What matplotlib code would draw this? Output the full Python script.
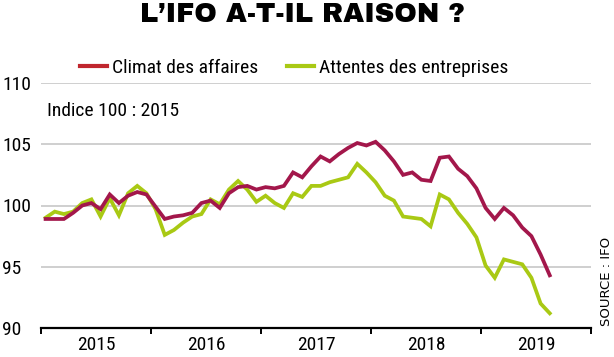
import numpy as np
import matplotlib
matplotlib.use('Agg')
import matplotlib.pyplot as plt
from matplotlib.lines import Line2D

# monthly values, Jan 2015 -> Aug 2019 (index 100 : 2015)
climat = [98.9, 98.9, 98.9, 99.4, 100.0, 100.2, 99.7, 100.9, 100.2, 100.8, 101.1, 100.9,
          99.9, 98.9, 99.1, 99.2, 99.4, 100.2, 100.4, 99.8, 101.0, 101.5, 101.6, 101.3,
          101.5, 101.4, 101.6, 102.7, 102.3, 103.2, 104.0, 103.6, 104.2, 104.7, 105.1, 104.9,
          105.2, 104.5, 103.6, 102.5, 102.7, 102.1, 102.0, 103.9, 104.0, 103.0, 102.4, 101.4,
          99.8, 98.9, 99.8, 99.2, 98.2, 97.5, 96.0, 94.3]
attentes = [99.0, 99.5, 99.3, 99.5, 100.2, 100.5, 99.1, 100.6, 99.2, 101.0, 101.6, 101.0,
            99.7, 97.6, 98.0, 98.6, 99.1, 99.3, 100.5, 100.1, 101.3, 102.0, 101.3, 100.3,
            100.8, 100.2, 99.8, 101.0, 100.7, 101.6, 101.6, 101.9, 102.1, 102.3, 103.4, 102.7,
            101.9, 100.8, 100.4, 99.1, 99.0, 98.9, 98.3, 100.9, 100.5, 99.4, 98.5, 97.4,
            95.1, 94.1, 95.6, 95.4, 95.2, 94.1, 92.0, 91.2]
years = ['2015', '2016', '2017', '2018', '2019']
yticks = [90, 95, 100, 105, 110]

red = '#a3174b'
green = '#a9c914'
font = ['Roboto Condensed', 'DejaVu Sans']
fs = 14

W, H = 614, 357
fig = plt.figure(figsize=(W / 100, H / 100), dpi=100)
ax = fig.add_axes([41 / W, (H - 328) / H, 550 / W, 245 / H])

months = np.arange(len(climat)) + 0.5
ax.plot(months, attentes, color=green, lw=2.7, solid_joinstyle='miter', zorder=3)
ax.plot(months, climat, color=red, lw=2.7, solid_joinstyle='miter', zorder=4)

ax.set_xlim(0, 60)
ax.set_ylim(90, 110)
for v in yticks[1:]:
    ax.axhline(v, color='#cccccc', lw=1.3, zorder=1)

for s in ['top', 'right', 'left']:
    ax.spines[s].set_visible(False)
ax.spines['bottom'].set_linewidth(1.6)
ax.spines['bottom'].set_zorder(5)

ax.set_xticks(np.arange(0, 61, 12))
ax.set_xticklabels([])
ax.set_xticks(np.arange(6, 60, 12), minor=True)
ax.set_xticklabels(years, minor=True, family=font, fontsize=fs)
ax.tick_params(axis='x', which='major', length=4, width=1.4, direction='out')
ax.tick_params(axis='x', which='minor', length=0, pad=6)

ax.set_yticks(yticks)
ax.set_yticklabels([str(v) for v in yticks], family=font, fontsize=fs)
ax.tick_params(axis='y', length=0, pad=28)
for lab in ax.get_yticklabels():
    lab.set_horizontalalignment('left')

fig.text(302 / W, 1 - 15 / H, "L’IFO A-T-IL RAISON ?", ha='center', va='center',
         fontsize=19.5, family=['Archivo Black', 'DejaVu Sans'])
fig.text(47 / W, 1 - 111 / H, 'Indice 100 : 2015', ha='left', va='center',
         family=font, fontsize=fs)
fig.text(606 / W, (H - 281) / H, 'SOURCE : IFO', rotation=90, ha='center', va='center',
         fontsize=9.5, family=['DejaVu Sans'])

handles = [Line2D([], [], color='#c0262e', lw=3), Line2D([], [], color=green, lw=3)]
fig.legend(handles, ['Climat des affaires', 'Attentes des entreprises'], ncol=2,
           loc='center left', bbox_to_anchor=(80 / W, 1 - 68 / H), frameon=False,
           prop={'family': font, 'size': 14}, handlelength=1.4, handletextpad=0.25,
           columnspacing=1.45, borderaxespad=0, borderpad=0)

fig.savefig('out.png', dpi=100)
